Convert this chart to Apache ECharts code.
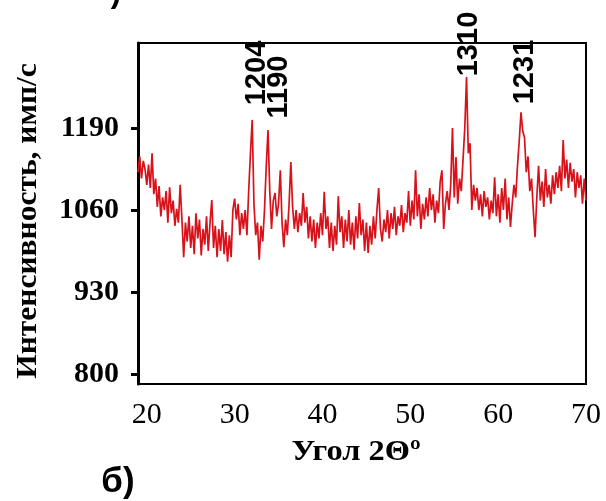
<!DOCTYPE html>
<html><head><meta charset="utf-8">
<script src="https://cdn.jsdelivr.net/npm/echarts@6/dist/echarts.min.js"></script>
<style>html,body{margin:0;padding:0;background:#fff}#c{width:606px;height:501px}</style>
</head><body><div id="c"></div>
<script>
// scan grid (2θ, degrees)
const angleStart = 19.0;
const angleStep = 0.2;
// intensity, one value per 0.2° step
const intensity = [
 1120,1145,1110,1138,1125, 1100,1132,1095,1150,1085,
 1110,1065,1098,1050,1080, 1060,1090,1040,1096,1055,
 1075,1035,1062,1040,1100, 1045,985,1040,1010,1050,
 1000,1035,990,1055,1015, 1045,988,1030,1005,1050,
 995,1040,1076,1000,1035, 985,1030,995,1044,990,
 1025,978,1020,985,1060, 1078,1045,1070,1020,1055,
 1030,1060,1020,1090,1150, 1203,1070,1020,1040,981,
 1035,1010,1060,1130,1187, 1090,1030,1075,1087,1050,
 1070,1123,1040,1001,1045, 1020,1070,1136,1065,1030,
 1060,1025,1055,1035,1087, 1040,1065,1015,1050,1010,
 1045,1000,1040,1015,1055, 1020,1089,1030,1050,1000,
 1040,995,1035,1005,1082, 1025,1050,1000,1045,1010,
 1060,1005,1040,997,1050, 1015,1071,1020,1045,995,
 1040,992,1035,1005,1050, 1015,1060,1095,1030,1010,
 1045,1025,1060,1015,1055, 1030,1065,1020,1050,1035,
 1068,1025,1055,1040,1090, 1035,1075,1045,1123,1050,
 1085,1030,1070,1045,1080, 1050,1095,1060,1085,1040,
 1075,1055,1105,1123,1030, 1070,1090,1060,1100,1190,
 1080,1144,1070,1110,1090, 1140,1190,1271,1150,1166,
 1060,1100,1075,1095,1060, 1085,1050,1090,1065,1080,
 1045,1075,1055,1112,1050, 1085,1040,1095,1060,1110,
 1045,1080,1033,1070,1100, 1080,1130,1170,1215,1185,
 1175,1120,1145,1090,1110, 1060,1017,1080,1130,1075,
 1105,1065,1125,1080,1100, 1070,1115,1085,1120,1095,
 1130,1090,1171,1110,1140, 1095,1135,1105,1125,1080,
 1120,1095,1115,1070,1110, 1075
];
const xTicks = [20, 30, 40, 50, 60, 70];
const yTicks = [800, 930, 1060, 1190];
const peakLabels = ['1204', '1190', '1310', '1231'];
const xTitle = 'Угол 2Θº';
const yTitle = 'Интенсивность, имп/с';
const panelLabel = 'б)';

const points = intensity.map((v, i) => [+(angleStart + i * angleStep).toFixed(2), v]);

const chart = echarts.init(document.getElementById('c'), null, {renderer: 'canvas'});
const serif = 'Liberation Serif';
const peakPos = [[257, 73], [279, 87], [469, 44], [525, 72]];

chart.setOption({
  animation: false,
  backgroundColor: '#fff',
  grid: {left: 138, right: 20, top: 43, bottom: 117, show: true, borderColor: '#000', borderWidth: 2, backgroundColor: '#fff'},
  xAxis: {
    type: 'value', min: 19, max: 70,
    axisLine: {show: true, lineStyle: {color: '#000', width: 2}},
    axisTick: {show: false},
    splitLine: {show: false},
    axisLabel: {customValues: xTicks, formatter: v => String(v), fontFamily: serif, fontSize: 30, color: '#000', margin: 16}
  },
  yAxis: {
    type: 'value', min: 784, max: 1325,
    axisLine: {show: true, lineStyle: {color: '#000', width: 3}},
    axisTick: {show: true, customValues: yTicks, length: 7, lineStyle: {color: '#000', width: 3}},
    splitLine: {show: false},
    axisLabel: {customValues: yTicks, formatter: v => String(v), fontFamily: serif, fontWeight: 'bold', fontSize: 30, color: '#000', margin: 19}
  },
  series: [{
    type: 'line', data: points, showSymbol: false, symbol: 'none',
    lineStyle: {color: '#d8121a', width: 1.7}
  }],
  graphic: [
    {type: 'text', x: 356, y: 452, scaleX: 1.08, style: {text: xTitle, font: 'bold 30px "Liberation Serif"', fill: '#000', align: 'center', verticalAlign: 'middle'}},
    {type: 'text', x: 28, y: 221, rotation: Math.PI / 2, scaleX: 1.05, style: {text: yTitle, font: 'bold 30px "Liberation Serif"', fill: '#000', align: 'center', verticalAlign: 'middle'}},
    {type: 'text', x: 118, y: 482, style: {text: panelLabel, font: 'bold 35px "Liberation Sans"', fill: '#000', align: 'center', verticalAlign: 'middle'}},
    {type: 'text', x: 116, y: 9, style: {text: ')', font: 'bold 31px "Liberation Sans"', fill: '#000', align: 'center', verticalAlign: 'bottom'}}
  ].concat(peakLabels.map((t, i) => ({
    type: 'text', x: peakPos[i][0], y: peakPos[i][1], rotation: Math.PI / 2, z: 100,
    style: {text: t, font: 'bold 29px "Liberation Sans"', fill: '#000', align: 'center', verticalAlign: 'middle'}
  })))
});
</script>
</body></html>
